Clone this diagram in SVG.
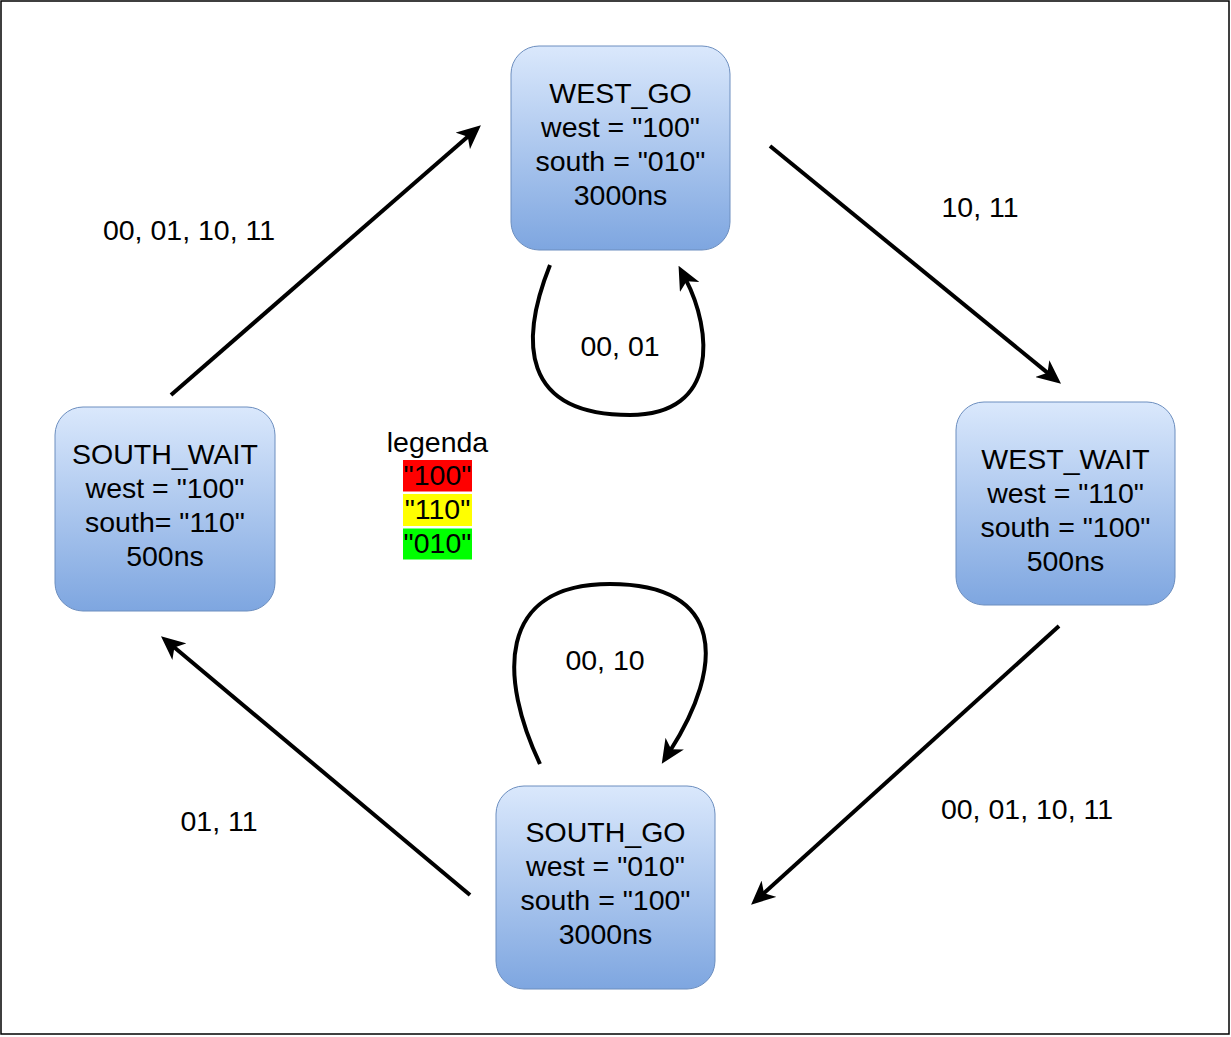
<svg xmlns="http://www.w3.org/2000/svg" width="1231" height="1037" viewBox="0 0 1231 1037">
<style>
.node{stroke:#6c8ebf;stroke-width:1;fill:url(#g)}
.t{font-family:"Liberation Sans",Arial,sans-serif;font-size:28.5px;fill:#000;text-anchor:middle}
.edge{fill:none;stroke:#000;stroke-width:4;marker-end:url(#arr)}
</style>
<defs>
<linearGradient id="g" x1="0" y1="0" x2="0" y2="1">
<stop offset="0" stop-color="#dae8fc"/>
<stop offset="1" stop-color="#7ea6e0"/>
</linearGradient>
<marker id="arr" markerUnits="userSpaceOnUse" viewBox="0 0 22 20" markerWidth="24" markerHeight="22" refX="8" refY="10" orient="auto">
<path d="M0,0 L22,10 L0,20 L6,10 z" fill="#000"/>
</marker>
</defs>
<rect x="0" y="0" width="1231" height="1037" fill="#fff"/>
<rect x="1" y="1" width="1228" height="1033" fill="none" stroke="#000" stroke-width="1.5"/>
<g id="connectors">
<path class="edge" d="M171,395 L469.4,135.2"/>
<path class="edge" d="M770,146 L1049.2,374.1"/>
<path class="edge" d="M1059,626 L762.4,894.6"/>
<path class="edge" d="M470,895 L172.7,646"/>
<path class="edge" d="M550,265 C520,340 520,415 630,415 C720,415 712,330 685.6,279.2"/>
<path class="edge" d="M540,764 C500,680 495,584 610,584 C725,584 725,665 670,751"/>
<text class="t" x="189" y="240">00, 01, 10, 11</text>
<text class="t" x="980" y="217">10, 11</text>
<text class="t" x="620" y="356">00, 01</text>
<text class="t" x="605" y="670">00, 10</text>
<text class="t" x="219" y="831">01, 11</text>
<text class="t" x="1027" y="819">00, 01, 10, 11</text>
</g>
<g id="west_go">
<rect class="node" x="511" y="46" width="219" height="204" rx="28"/>
<text class="t" x="620.5" y="103">WEST_GO</text>
<text class="t" x="620.5" y="137">west = "100"</text>
<text class="t" x="620.5" y="171">south = "010"</text>
<text class="t" x="620.5" y="205">3000ns</text>
</g>
<g id="south_wait">
<rect class="node" x="55" y="407" width="220" height="204" rx="28"/>
<text class="t" x="165" y="464">SOUTH_WAIT</text>
<text class="t" x="165" y="498">west = "100"</text>
<text class="t" x="165" y="532">south= "110"</text>
<text class="t" x="165" y="566">500ns</text>
</g>
<g id="west_wait">
<rect class="node" x="956" y="402" width="219" height="203" rx="28"/>
<text class="t" x="1065.5" y="469">WEST_WAIT</text>
<text class="t" x="1065.5" y="503">west = "110"</text>
<text class="t" x="1065.5" y="537">south = "100"</text>
<text class="t" x="1065.5" y="571">500ns</text>
</g>
<g id="south_go">
<rect class="node" x="496" y="786" width="219" height="203" rx="28"/>
<text class="t" x="605.5" y="842">SOUTH_GO</text>
<text class="t" x="605.5" y="876">west = "010"</text>
<text class="t" x="605.5" y="910">south = "100"</text>
<text class="t" x="605.5" y="944">3000ns</text>
</g>
<g id="legend">
<text class="t" x="437.5" y="452">legenda</text>
<rect x="403" y="460" width="69" height="31.5" fill="#ff0000"/>
<rect x="403" y="494" width="69" height="32" fill="#ffff00"/>
<rect x="403" y="528.5" width="69" height="31" fill="#00ff00"/>
<text class="t" x="437.5" y="485">"100"</text>
<text class="t" x="437.5" y="519">"110"</text>
<text class="t" x="437.5" y="553">"010"</text>
</g>
</svg>
